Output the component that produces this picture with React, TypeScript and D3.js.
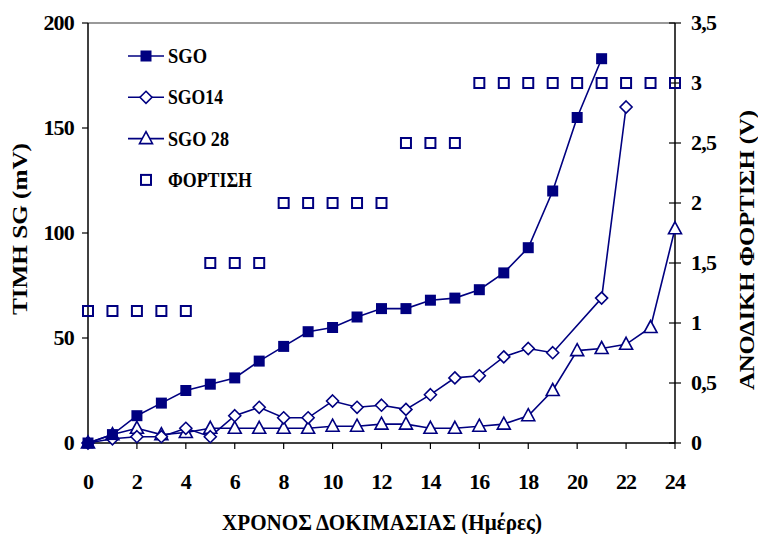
import React, { useEffect, useRef } from 'react'
import * as d3 from 'd3'

// days (x) for each series
const sgoDays = [0, 1, 2, 3, 4, 5, 6, 7, 8, 9, 10, 11, 12, 13, 14, 15, 16, 17, 18, 19, 20, 21]
const sgoValues = [0, 4, 13, 19, 25, 28, 31, 39, 46, 53, 55, 60, 64, 64, 68, 69, 73, 81, 93, 120, 155, 183]

const sgo14Days = [0, 1, 2, 3, 4, 5, 6, 7, 8, 9, 10, 11, 12, 13, 14, 15, 16, 17, 18, 19, 21, 22]
const sgo14Values = [0, 2, 3, 3, 7, 3, 13, 17, 12, 12, 20, 17, 18, 16, 23, 31, 32, 41, 45, 43, 69, 160]

const sgo28Days = [0, 1, 2, 3, 4, 5, 6, 7, 8, 9, 10, 11, 12, 13, 14, 15, 16, 17, 18, 19, 20, 21, 22, 23, 24]
const sgo28Values = [0, 4, 7, 4, 5, 7, 7, 7, 7, 7, 8, 8, 9, 9, 7, 7, 8, 9, 13, 25, 44, 45, 47, 55, 102]

const chargeDays = [0, 1, 2, 3, 4, 5, 6, 7, 8, 9, 10, 11, 12, 13, 14, 15, 16, 17, 18, 19, 20, 21, 22, 23, 24]
const chargeValues = [1.1, 1.1, 1.1, 1.1, 1.1, 1.5, 1.5, 1.5, 2, 2, 2, 2, 2, 2.5, 2.5, 2.5, 3, 3, 3, 3, 3, 3, 3, 3, 3]

const xTicks = [0, 2, 4, 6, 8, 10, 12, 14, 16, 18, 20, 22, 24]
const leftTicks = [0, 50, 100, 150, 200]
const rightTicks = [0, 0.5, 1, 1.5, 2, 2.5, 3, 3.5]

const legendNames = ['SGO', 'SGO14', 'SGO 28', 'ΦΟΡΤΙΣΗ']
const legendWidths = [39, 55, 61, 84]

const NAVY = '#000080'
const FONT = "'Liberation Serif', 'Times New Roman', Times, serif"

export default function App() {
  const ref = useRef<SVGSVGElement>(null)

  useEffect(() => {
    const svg = d3.select(ref.current)
    svg.selectAll('*').remove()

    const left = 88, right = 675, top = 23, bottom = 443
    const x = d3.scaleLinear().domain([0, 24]).range([left, right])
    const yL = d3.scaleLinear().domain([0, 200]).range([bottom, top])
    const yR = d3.scaleLinear().domain([0, 3.5]).range([bottom, top])

    const label = (sel: any, size: number, ls: number) =>
      sel.attr('font-family', FONT).attr('font-weight', 'bold')
        .attr('font-size', size).attr('letter-spacing', ls)

    // top border
    svg.append('line')
      .attr('x1', left).attr('x2', right).attr('y1', top).attr('y2', top)
      .attr('stroke', '#777').attr('stroke-width', 1.5)

    // left axis
    const gl = svg.append('g')
    gl.append('line').attr('x1', left).attr('x2', left).attr('y1', top).attr('y2', bottom)
      .attr('stroke', '#000').attr('stroke-width', 1.5)
    leftTicks.forEach(t => {
      gl.append('line').attr('x1', left - 6).attr('x2', left).attr('y1', yL(t)).attr('y2', yL(t))
        .attr('stroke', '#000').attr('stroke-width', 1.2)
      label(gl.append('text').attr('x', left - 14).attr('y', yL(t)).attr('dy', '0.33em')
        .attr('text-anchor', 'end'), 22, -0.8).text(t)
    })

    // right axis
    const gr = svg.append('g')
    gr.append('line').attr('x1', right).attr('x2', right).attr('y1', top).attr('y2', bottom)
      .attr('stroke', '#000').attr('stroke-width', 1.5)
    rightTicks.forEach(t => {
      gr.append('line').attr('x1', right - 6).attr('x2', right + 6).attr('y1', yR(t)).attr('y2', yR(t))
        .attr('stroke', '#000').attr('stroke-width', 1.2)
      label(gr.append('text').attr('x', right + 16).attr('y', yR(t)).attr('dy', '0.33em')
        .attr('text-anchor', 'start'), 22, -0.8).text(String(t).replace('.', ','))
    })

    // bottom axis
    const gb = svg.append('g')
    gb.append('line').attr('x1', left).attr('x2', right).attr('y1', bottom).attr('y2', bottom)
      .attr('stroke', '#000').attr('stroke-width', 1.5)
    xTicks.forEach(t => {
      gb.append('line').attr('x1', x(t)).attr('x2', x(t)).attr('y1', bottom).attr('y2', bottom + 6)
        .attr('stroke', '#000').attr('stroke-width', 1.2)
      label(gb.append('text').attr('x', x(t)).attr('y', 489)
        .attr('text-anchor', 'middle'), 22, -0.8).text(t)
    })

    // axis titles
    label(svg.append('text').attr('x', 222).attr('y', 530)
      .attr('textLength', 320).attr('lengthAdjust', 'spacingAndGlyphs'), 24, 0)
      .text('ΧΡΟΝΟΣ ΔΟΚΙΜΑΣΙΑΣ (Ημέρες)')
    label(svg.append('text').attr('transform', 'translate(27,315) rotate(-90)')
      .attr('textLength', 172).attr('lengthAdjust', 'spacingAndGlyphs'), 21, 0).text('ΤΙΜΗ SG (mV)')
    label(svg.append('text').attr('transform', 'translate(754,390) rotate(-90)')
      .attr('textLength', 280).attr('lengthAdjust', 'spacingAndGlyphs'), 21, 0).text('ΑΝΟΔΙΚΗ ΦΟΡΤΙΣΗ (V)')

    // marker helpers
    const drawMarker = (g: any, kind: string, cx: number, cy: number) => {
      if (kind === 'square') {
        g.append('rect').attr('x', cx - 5.5).attr('y', cy - 5.5).attr('width', 11).attr('height', 11)
          .attr('fill', NAVY)
      } else if (kind === 'diamond') {
        g.append('path').attr('d', `M${cx},${cy - 6}L${cx + 6},${cy}L${cx},${cy + 6}L${cx - 6},${cy}Z`)
          .attr('fill', '#fff').attr('stroke', NAVY).attr('stroke-width', 1.6)
      } else if (kind === 'triangle') {
        g.append('path').attr('d', `M${cx},${cy - 7}L${cx + 6.5},${cy + 5}L${cx - 6.5},${cy + 5}Z`)
          .attr('fill', '#fff').attr('stroke', NAVY).attr('stroke-width', 1.6)
      } else {
        g.append('rect').attr('x', cx - 5).attr('y', cy - 5).attr('width', 10).attr('height', 10)
          .attr('fill', 'none').attr('stroke', NAVY).attr('stroke-width', 2)
      }
    }

    const line = d3.line<[number, number]>().x(d => x(d[0])).y(d => yL(d[1]))
    const series = [
      { days: sgoDays, vals: sgoValues, kind: 'square' },
      { days: sgo14Days, vals: sgo14Values, kind: 'diamond' },
      { days: sgo28Days, vals: sgo28Values, kind: 'triangle' },
    ]

    // charge markers (right axis)
    const gc = svg.append('g')
    chargeDays.forEach((d, i) => drawMarker(gc, 'open', x(d), yR(chargeValues[i])))

    series.slice().reverse().forEach(s => {
      const pts = s.days.map((d, i) => [d, s.vals[i]] as [number, number])
      svg.append('path').attr('d', line(pts)).attr('fill', 'none')
        .attr('stroke', NAVY).attr('stroke-width', 1.6)
    })
    series.slice().reverse().forEach(s => {
      const g = svg.append('g')
      s.days.forEach((d, i) => drawMarker(g, s.kind, x(d), yL(s.vals[i])))
    })

    // legend
    const lg = svg.append('g')
    const kinds = ['square', 'diamond', 'triangle', 'open']
    legendNames.forEach((name, i) => {
      const ly = 56 + i * 41.3
      if (i < 3) {
        lg.append('line').attr('x1', 128).attr('x2', 164).attr('y1', ly).attr('y2', ly)
          .attr('stroke', NAVY).attr('stroke-width', 1.6)
      }
      drawMarker(lg, kinds[i], 146, ly)
      label(lg.append('text').attr('x', 168).attr('y', ly + 7)
        .attr('textLength', legendWidths[i]).attr('lengthAdjust', 'spacingAndGlyphs'), 20, 0).text(name)
    })
  }, [])

  return (
    <svg ref={ref} width={758} height={534}
      style={{ position: 'absolute', left: 0, top: 0, background: '#fff' }} />
  )
}
